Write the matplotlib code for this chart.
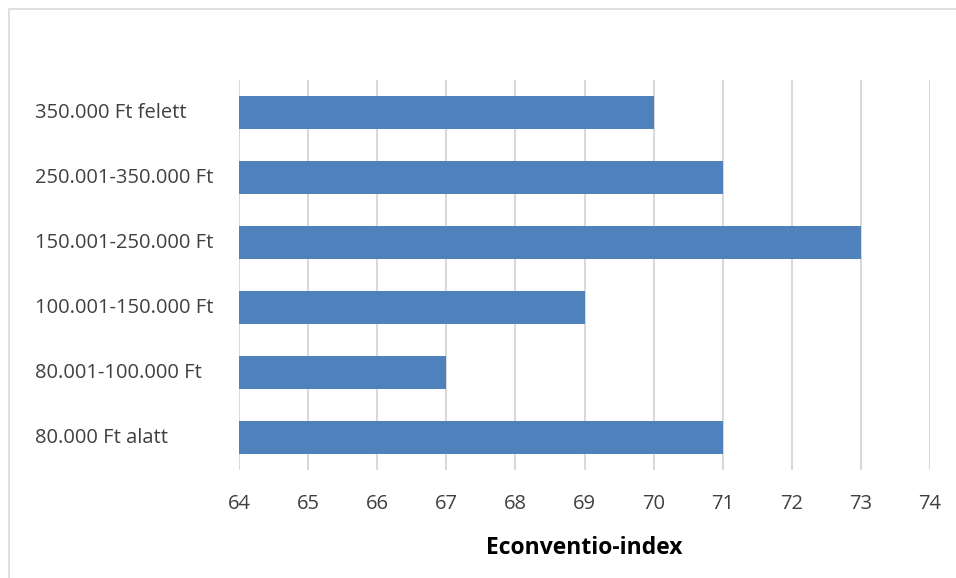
import matplotlib.pyplot as plt
from matplotlib.patches import Rectangle

kategoriak = ['80.000 Ft alatt', '80.001-100.000 Ft', '100.001-150.000 Ft',
              '150.001-250.000 Ft', '250.001-350.000 Ft', '350.000 Ft felett']
ertekek = [71, 67, 69, 73, 71, 70]
x_ticks = list(range(64, 75))

plt.rcParams['font.family'] = ['Open Sans', 'DejaVu Sans']

W, H = 956, 578
fig = plt.figure(figsize=(W / 100, H / 100), dpi=100)
ax = fig.add_axes([239 / W, 1 - 470 / H, (930 - 239) / W, (470 - 80) / H])

# keret a diagram korul
fig.patches.append(Rectangle((9 / W, -0.05), 1.1, 1 - 9 / H + 0.05, transform=fig.transFigure,
                             fill=False, edgecolor='#d9d9d9', linewidth=1.2))

y = range(len(kategoriak))
ax.barh(y, [v - 64 for v in ertekek], left=64, height=0.5, color='#4f81bd', zorder=3)

ax.set_xlim(64, 74)
ax.set_ylim(-0.5, len(kategoriak) - 0.5)
ax.set_xticks(x_ticks)
ax.set_xticklabels([str(t) for t in x_ticks], fontsize=14.5, color='#404040')
ax.tick_params(axis='x', length=0, pad=17)
ax.tick_params(axis='y', length=0)
ax.set_yticks(list(y))
ax.set_yticklabels([])
for i, k in enumerate(kategoriak):
    fig.text(35 / W, 1 - (438 - 65 * i) / H, k, ha='left', va='center',
             fontsize=14.5, color='#404040')

ax.grid(True, axis='x', color='#d9d9d9', linewidth=1.5, zorder=0)
for s in ax.spines.values():
    s.set_visible(False)

ax.set_xlabel('Econventio-index', fontsize=16.5, fontweight='bold', color='black', labelpad=16)

fig.savefig('out.png', dpi=100)
